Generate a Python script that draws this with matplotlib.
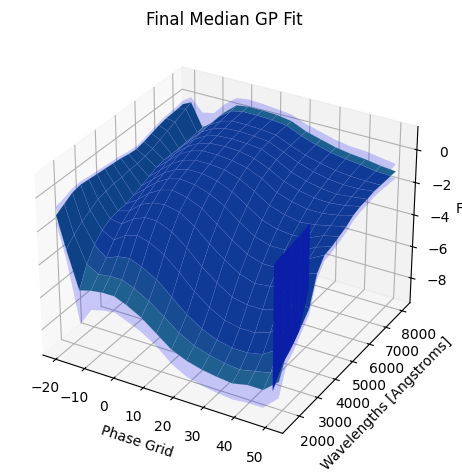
import numpy as np
import matplotlib
matplotlib.use("Agg")
import matplotlib.pyplot as plt
from matplotlib.colors import to_rgba

phases = [-23, -20, -16, -12, -8, -4, 0, 5, 10, 15, 20, 25, 30, 35, 40, 45, 50]
wavelengths = [1800, 2200, 2600, 3000, 3400, 3800, 4200, 4600, 5000, 5400, 5800, 6200, 6600, 7000, 7400, 8000, 8300]
# median flux, one list per phase, wavelength ascending
flux_by_phase = [
 [-1.6,-1.3,-1.0,-.9,-.95,-1.0,-1.05,-1.1,-1.15,-1.25,-1.3,-1.2,-1.05,-.9,-.8,-.75,-.7],
 [-3.5,-3.0,-2.6,-2.3,-2.0,-1.9,-1.8,-1.8,-1.7,-1.7,-1.6,-1.5,-1.3,-1.1,-.9,-.6,-.45],
 [-5.8,-4.6,-3.8,-3.3,-3.0,-2.9,-2.85,-2.7,-2.5,-2.3,-2.1,-2.0,-2.0,-2.0,-1.95,-1.9,-1.85],
 [-5.6,-5.0,-4.4,-3.7,-3.1,-2.7,-2.4,-2.1,-1.9,-1.7,-1.5,-1.4,-1.3,-1.3,-1.3,-1.3,-1.3],
 [-5.5,-4.9,-4.1,-3.2,-2.6,-2.1,-1.8,-1.5,-1.3,-1.1,-.9,-.8,-.7,-.6,-.55,-.5,-.5],
 [-5.5,-4.9,-4.0,-3.0,-2.3,-1.8,-1.4,-1.1,-.9,-.7,-.5,-.4,-.3,-.2,-.1,0,.1],
 [-5.8,-5.2,-4.3,-3.2,-2.3,-1.7,-1.2,-.9,-.7,-.5,-.3,-.2,-.1,0,.1,.15,.2],
 [-6.3,-5.7,-4.8,-3.7,-2.7,-1.9,-1.4,-1.0,-.7,-.5,-.3,-.15,-.05,.05,.1,.15,.2],
 [-7.0,-6.4,-5.6,-4.5,-3.4,-2.5,-1.8,-1.3,-.9,-.6,-.4,-.2,-.1,0,.05,.1,.15],
 [-7.7,-7.1,-6.4,-5.4,-4.3,-3.3,-2.5,-1.8,-1.3,-.9,-.6,-.4,-.2,-.1,-.05,0,0],
 [-8.1,-7.6,-7.0,-6.1,-5.0,-4.0,-3.2,-2.5,-1.9,-1.4,-1.0,-.8,-.6,-.5,-.45,-.4,-.4],
 [-8.35,-7.9,-7.4,-6.6,-5.6,-4.6,-3.8,-3.1,-2.5,-2.0,-1.6,-1.3,-1.1,-.9,-.8,-.7,-.65],
 [-8.5,-8.1,-7.6,-6.8,-5.8,-4.9,-4.1,-3.4,-2.8,-2.3,-1.9,-1.6,-1.4,-1.2,-1.05,-.95,-.9],
 [-8.6,-8.2,-7.6,-6.8,-5.8,-4.8,-4.1,-3.4,-2.9,-2.5,-2.1,-1.8,-1.6,-1.4,-1.25,-1.1,-1.05],
 [-8.4,-8.0,-7.4,-6.5,-5.5,-4.5,-3.8,-3.2,-2.8,-2.4,-2.1,-1.85,-1.7,-1.5,-1.35,-1.2,-1.15],
 [-8.4,-7.8,-6.8,-5.6,-4.6,-3.5,-3.0,-2.7,-2.4,-2.2,-1.95,-1.75,-1.6,-1.5,-1.4,-1.35,-1.3],
 [-7.6,-6.3,-6.05,-5.5,-4.9,-3.2,-2.5,-2.4,-2.2,-2.0,-1.7,-1.55,-1.5,-1.4,-1.4,-1.4,-1.4],
]
band_phase = [.5,.7,2.1,1.2,1.1,1.0,1.0,.9,.8,.9,1.0,1.0,1.0,1.0,1.1,1.1,1.0]
band_wave = [1.0,.7,.5,.4,.35,.35,.35,.35,.35,.35,.35,.35,.35,.35,.35,.4,.45]
# steep wall at the red end of the low-wavelength edge
wall_wave = [1470, 2000, 2420, 2850, 3350]
wall_top = [-0.26, -0.15, -0.05, 0.05, 0.2]
wall_bottom = [-7.8, -6.7, -6.3, -5.7, -3.7]
wall_phase = 50

X, Y = np.meshgrid(phases, wavelengths)
Z = np.array(flux_by_phase).T
B = np.outer(band_wave, band_phase)

fig = plt.figure(figsize=(4.62, 4.74), dpi=100)
ax = fig.add_axes([0.0, 0.029, 0.97, 0.90], projection="3d")
ax.computed_zorder = False

colors = np.empty((Z.shape[0] - 1, Z.shape[1] - 1, 4))
colors[:] = to_rgba("#0f3a96")
colors[0, :] = to_rgba("#1f6090")
colors[1, :] = to_rgba("#174c92")
colors[-1:, :] = to_rgba("#1c6090")
colors[:, :2] = to_rgba("#0d4286")

ax.plot_surface(X, Y, Z - B, color="b", alpha=0.2, linewidth=0, shade=False, rstride=1, cstride=1, zorder=1)
ax.plot_surface(X, Y, Z + B, color="b", alpha=0.2, linewidth=0, shade=False, rstride=1, cstride=1, zorder=1.5)
ax.plot_surface(X, Y, Z, facecolors=colors, edgecolor=(0.55, 0.65, 0.85, 0.3), linewidth=0.3,
                shade=False, rstride=1, cstride=1, zorder=2)

WX, WY = np.meshgrid(wall_wave, [0, 1])
ax.plot_surface(np.full(WX.shape, wall_phase), WX, np.array([wall_bottom, wall_top]),
                color="#0a1ea8", linewidth=0, shade=False, rstride=1, cstride=1, zorder=4)

ax.set_xlim(-24.5, 55.5)
ax.set_ylim(1100, 8500)
ax.set_zlim(-9.6, 1.4)
ax.set_xlabel("Phase Grid")
ax.set_ylabel("Wavelengths [Angstroms]")
ax.set_zlabel("Flux")
ax.set_title("Final Median GP Fit", fontsize=12)
fig.savefig("out.png", dpi=100)
